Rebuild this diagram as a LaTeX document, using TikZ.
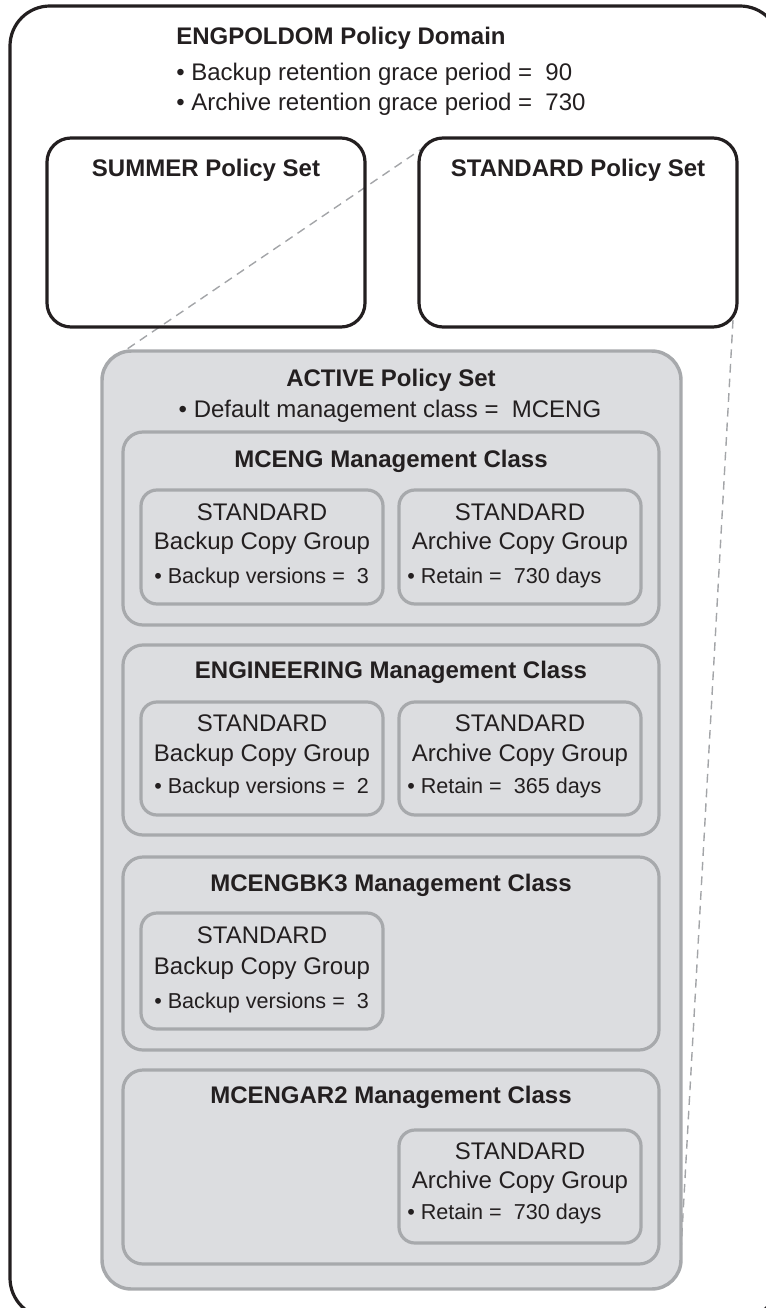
\documentclass[tikz,border=0pt]{standalone}
\usepackage{fontspec}
\setmainfont{Liberation Sans}
\definecolor{boxgray}{HTML}{A7A9AC}
\definecolor{fillgray}{HTML}{DCDDE0}
\definecolor{frameblack}{HTML}{231F20}
\definecolor{dashgray}{HTML}{A3A5A8}
\newcommand\pxbox[6]{\node[#2, minimum width={(#5-#3)*0.75pt}, minimum height={(#6-#4)*0.75pt}] (#1) at ({(#3+#5)/2},{(#4+#6)/2}) {};}
\begin{document}
\begin{tikzpicture}[x=0.75pt,y=-0.75pt,
  outerframe/.style={draw=frameblack, line width=2.4pt, rounded corners=30pt, inner sep=0pt},
  setbox/.style={draw=frameblack, line width=2.4pt, rounded corners=18pt, inner sep=0pt},
  activebox/.style={draw=boxgray, fill=fillgray, line width=2.6pt, rounded corners=22pt, inner sep=0pt},
  classbox/.style={draw=boxgray, line width=2.4pt, rounded corners=15pt, inner sep=0pt},
  groupbox/.style={draw=boxgray, line width=2.4pt, rounded corners=12pt, inner sep=0pt},
  dashline/.style={draw=dashgray, line width=1.05pt, dash pattern=on 6.5pt off 4.5pt},
  title/.style={font=\fontsize{18pt}{21pt}\selectfont\bfseries, text=frameblack, inner sep=0pt},
  txt/.style={font=\fontsize{18pt}{21pt}\selectfont, text=frameblack, inner sep=0pt},
  gtxt/.style={font=\fontsize{18pt}{21pt}\selectfont, text=frameblack, inner sep=0pt},
  btxt/.style={font=\fontsize{16.2pt}{19pt}\selectfont, text=frameblack, inner sep=0pt}]
\useasboundingbox (0,0) rectangle (766,1308);
\clip (0,0) rectangle (766,1308);

% outer domain frame
\pxbox{domain}{outerframe}{10}{6}{780}{1318}

% dashed zoom lines
\coordinate (dl1) at (426,146);
\coordinate (dl2) at (111,360);
\coordinate (dr1) at (733,320);
\coordinate (dr2) at (681,1250);
\draw[dashline] (dl1) -- (dl2);
\draw[dashline] (dr1) -- (dr2);

% policy sets
\pxbox{summer}{setbox}{47}{138}{365}{327}
\pxbox{standard}{setbox}{419}{138}{737}{327}
\pxbox{active}{activebox}{102}{351}{681}{1289}

% management classes
\pxbox{mceng}{classbox}{123}{432}{659}{625}
\pxbox{engin}{classbox}{123}{645}{659}{835}
\pxbox{bkthree}{classbox}{123}{857}{659}{1050}
\pxbox{artwo}{classbox}{123}{1070}{659}{1264}

% copy groups
\pxbox{g1b}{groupbox}{141}{490}{383}{604}
\pxbox{g1a}{groupbox}{399}{490}{641}{604}
\pxbox{g2b}{groupbox}{141}{702}{383}{815}
\pxbox{g2a}{groupbox}{399}{702}{641}{815}
\pxbox{g3b}{groupbox}{141}{913}{383}{1029}
\pxbox{g4a}{groupbox}{399}{1130}{641}{1243}

% domain texts
\node[title, anchor=west] (domt) at (176,38) {ENGPOLDOM Policy Domain};
\node[txt, anchor=west] (domb1) at (176,74) {\textbullet\ Backup retention grace period =\ \ 90};
\node[txt, anchor=west] (domb2) at (176,104) {\textbullet\ Archive retention grace period =\ \ 730};

\node[title] (summert) at (206,170) {SUMMER Policy Set};
\node[title] (standardt) at (578,170) {STANDARD Policy Set};

\node[title] (activet) at (391,380) {ACTIVE Policy Set};
\node[txt] (activeb) at (390,411) {\textbullet\ Default management class =\ \ MCENG};

\node[title] (mcengt) at (391,461) {MCENG Management Class};
\node[title] (engint) at (391,672) {ENGINEERING Management Class};
\node[title] (bkthreet) at (391,885) {MCENGBK3 Management Class};
\node[title] (artwot) at (391,1097) {MCENGAR2 Management Class};

% group texts
\node[gtxt] (g1b1) at (262,512) {STANDARD};
\node[gtxt] (g1b2) at (262,543) {Backup Copy Group};
\node[btxt, anchor=west] (g1b3) at (154,578) {\textbullet\ Backup versions =\ \ 3};
\node[gtxt] (g1a1) at (520,512) {STANDARD};
\node[gtxt] (g1a2) at (520,543) {Archive Copy Group};
\node[btxt, anchor=west] (g1a3) at (407,578) {\textbullet\ Retain =\ \ 730 days};

\node[gtxt] (g2b1) at (262,723) {STANDARD};
\node[gtxt] (g2b2) at (262,755) {Backup Copy Group};
\node[btxt, anchor=west] (g2b3) at (154,788) {\textbullet\ Backup versions =\ \ 2};
\node[gtxt] (g2a1) at (520,723) {STANDARD};
\node[gtxt] (g2a2) at (520,755) {Archive Copy Group};
\node[btxt, anchor=west] (g2a3) at (407,788) {\textbullet\ Retain =\ \ 365 days};

\node[gtxt] (g3b1) at (262,935) {STANDARD};
\node[gtxt] (g3b2) at (262,968) {Backup Copy Group};
\node[btxt, anchor=west] (g3b3) at (154,1003) {\textbullet\ Backup versions =\ \ 3};

\node[gtxt] (g4a1) at (520,1151) {STANDARD};
\node[gtxt] (g4a2) at (520,1182) {Archive Copy Group};
\node[btxt, anchor=west] (g4a3) at (407,1214) {\textbullet\ Retain =\ \ 730 days};
\end{tikzpicture}
\end{document}
